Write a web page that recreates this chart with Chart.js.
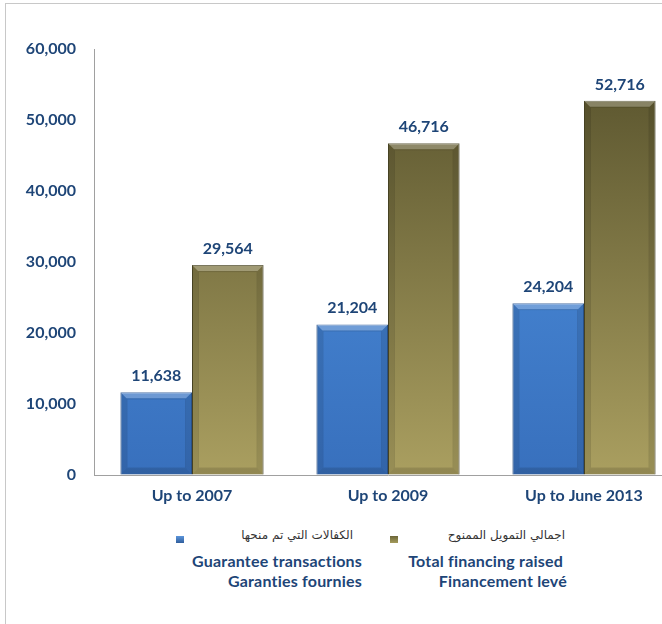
<!DOCTYPE html>
<html>
<head>
<meta charset="utf-8">
<script src="https://cdn.jsdelivr.net/npm/chart.js@4.4.1/dist/chart.umd.min.js"></script>
<style>
  body { margin: 0; background: #fff; overflow: hidden; width: 662px; height: 624px; position: relative; }
  #frame { position: absolute; left: 5px; top: 3px; width: 720px; height: 700px;
           border-left: 1px solid #c8c8c8; border-top: 1px solid #c8c8c8; }
  #wrap { position: absolute; left: 6px; top: 4px; width: 690px; height: 510px; }
  .lg { position: absolute; font-family: Lato, "Open Sans", sans-serif; font-weight: bold;
        color: #1e4577; font-size: 16px; white-space: nowrap; text-align: right; letter-spacing: 0.2px; }
  .ar { font-family: "DejaVu Sans", sans-serif; font-weight: normal; font-size: 12px; color: #333; letter-spacing: 0; }
  .sw { position: absolute; width: 8px; height: 7px; }
</style>
</head>
<body>
<div id="frame"></div>
<div id="wrap"><canvas id="c"></canvas></div>

<!-- légende -->
<div class="sw" style="left:176px;top:536px;background:linear-gradient(#5c95db,#2f5e9c);"></div>
<div class="lg ar" style="right:309px;top:528px;">الكفالات التي تم منحها</div>
<div class="lg" style="right:300px;top:551px;">Guarantee transactions</div>
<div class="lg" style="right:300px;top:571px;">Garanties fournies</div>

<div class="sw" style="left:390px;top:536px;background:linear-gradient(#6b6538,#a59c5c);"></div>
<div class="lg ar" style="right:97px;top:528px;">اجمالي التمويل الممنوح</div>
<div class="lg" style="right:99px;top:551px;">Total financing raised</div>
<div class="lg" style="right:95px;top:571px;">Financement levé</div>

<script>
const CATS      = ['Up to 2007', 'Up to 2009', 'Up to June 2013'];
const GUARANTEE = [11638, 21204, 24204];   // Guarantee transactions
const FINANCING = [29564, 46716, 52716];   // Total financing raised
const Y_TICKS   = [0, 10000, 20000, 30000, 40000, 50000, 60000];

const navy = '#1e4577';
const font = 'Lato, "Open Sans", sans-serif';

function grad(ctx, top, bottom) {
  const a = ctx.chart.chartArea;
  if (!a) return top;
  const g = ctx.chart.ctx.createLinearGradient(0, a.top, 0, a.bottom);
  g.addColorStop(0, top);
  g.addColorStop(1, bottom);
  return g;
}

/* biseau + étiquettes de valeurs */
const bevel = {
  id: 'bevel',
  afterDatasetsDraw(chart) {
    const c = chart.ctx;
    chart.data.datasets.forEach((ds, di) => {
      chart.getDatasetMeta(di).data.forEach((bar, i) => {
        const l = bar.x - bar.width / 2, r = bar.x + bar.width / 2;
        const t = bar.y, b = bar.base, k = 6;
        c.save();
        c.strokeStyle = 'rgba(0,0,0,0.12)';
        c.lineWidth = 1;
        c.strokeRect(l + k + 0.5, t + k + 0.5, r - l - 2 * k - 1, b - t - 2 * k - 1);
        c.fillStyle = 'rgba(255,255,255,0.25)';
        c.beginPath();
        c.moveTo(l, t); c.lineTo(r, t); c.lineTo(r - k, t + k); c.lineTo(l + k, t + k);
        c.closePath(); c.fill();
        c.fillStyle = 'rgba(0,0,0,0.10)';
        c.beginPath();
        c.moveTo(l, t); c.lineTo(l + k, t + k); c.lineTo(l + k, b - k); c.lineTo(l, b);
        c.closePath(); c.fill();
        c.beginPath();
        c.moveTo(r, t); c.lineTo(r - k, t + k); c.lineTo(r - k, b - k); c.lineTo(r, b);
        c.closePath(); c.fill();
        c.fillStyle = 'rgba(0,0,0,0.14)';
        c.beginPath();
        c.moveTo(l, b); c.lineTo(l + k, b - k); c.lineTo(r - k, b - k); c.lineTo(r, b);
        c.closePath(); c.fill();
        c.restore();

        c.save();
        c.fillStyle = navy;
        c.font = 'bold 16px ' + font;
        c.textAlign = 'center';
        c.textBaseline = 'alphabetic';
        c.fillText(ds.data[i].toLocaleString('en-US'), bar.x, t - 11);
        c.restore();
      });
    });
  }
};

new Chart(document.getElementById('c'), {
  type: 'bar',
  data: {
    labels: CATS,
    datasets: [
      {
        label: 'Guarantee transactions',
        data: GUARANTEE,
        backgroundColor: ctx => grad(ctx, '#5094e2', '#3870bd'),
        borderColor: '#2d5a96',
        borderWidth: 1,
      },
      {
        label: 'Total financing raised',
        data: FINANCING,
        backgroundColor: ctx => grad(ctx, '#55502b', '#aa9f60'),
        borderColor: '#4e4a28',
        borderWidth: 1,
      },
    ],
  },
  options: {
    responsive: true,
    maintainAspectRatio: false,
    animation: false,
    layout: { padding: { top: 45, right: 14, left: 0, bottom: 0 } },
    datasets: { bar: { barPercentage: 1, categoryPercentage: 0.73 } },
    plugins: { legend: { display: false }, tooltip: { enabled: false } },
    scales: {
      x: {
        grid: { display: true, drawOnChartArea: false, drawTicks: false, color: 'transparent' },
        border: { display: true, color: '#a0a0a0', width: 1 },
        ticks: { color: navy, font: { family: font, size: 16, weight: 'bold' }, padding: 11 },
        afterFit: s => { s.height = 39; },
      },
      y: {
        min: 0, max: 60000,
        afterBuildTicks: s => { s.ticks = Y_TICKS.map(v => ({ value: v })); },
        grid: { display: true, drawOnChartArea: false, drawTicks: false, color: 'transparent' },
        border: { display: true, color: '#a0a0a0', width: 1 },
        ticks: {
          color: navy, font: { family: font, size: 16, weight: 'bold' }, padding: 18,
          callback: v => v.toLocaleString('en-US'),
        },
        afterFit: s => { s.width = 88; },
      },
    },
  },
  plugins: [bevel],
});
</script>
</body>
</html>
